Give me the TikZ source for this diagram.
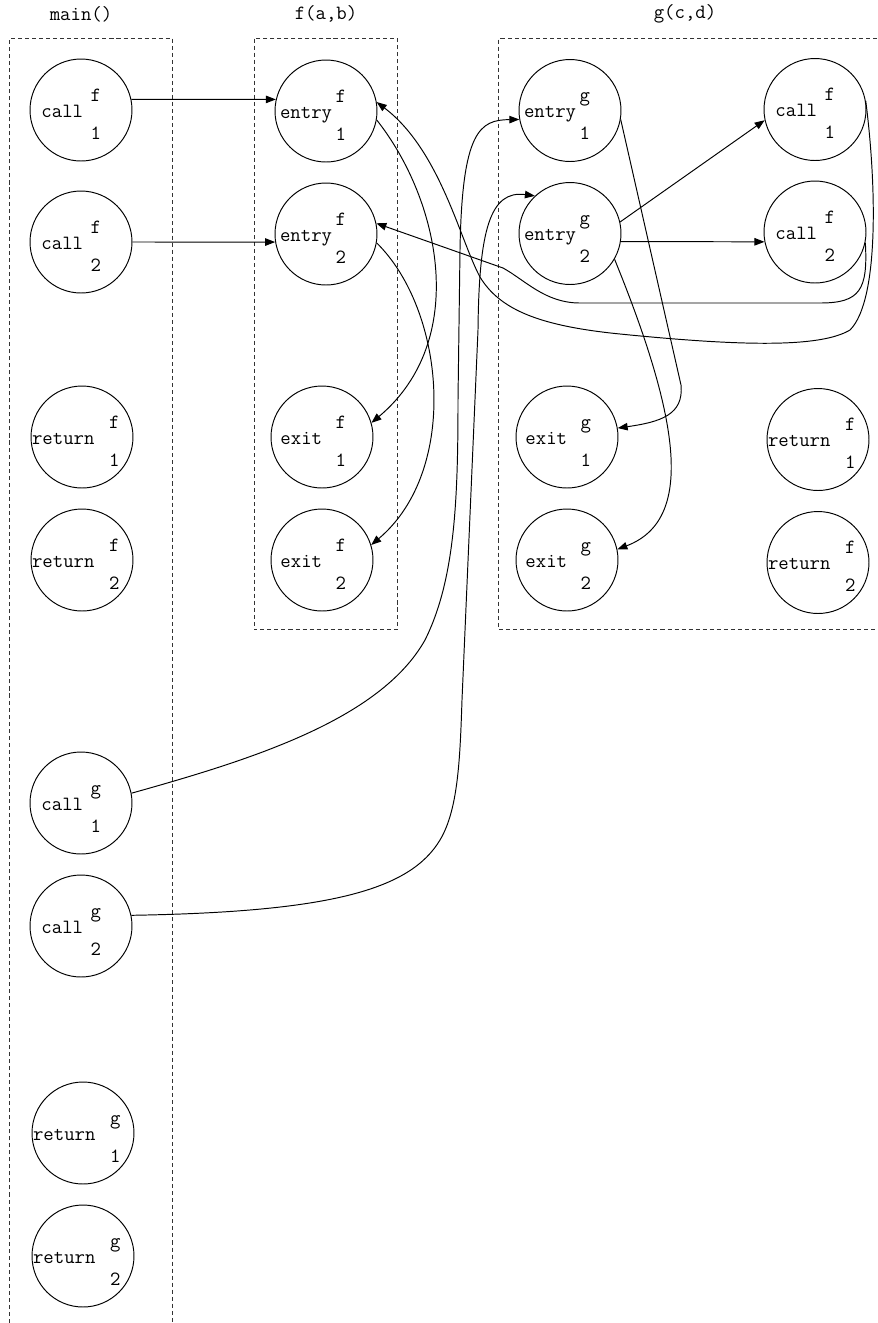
\documentclass[tikz,border=0pt]{standalone}
\usepackage{fontspec}
\usetikzlibrary{arrows.meta}

% word, then the name above and the number below it
\newcommand{\slbl}[5]{\texttt{#1}\hspace{#2}\rlap{\raisebox{0.32cm}{#4}}\raisebox{-0.44cm}{#5}\hspace{#3}\null}
\newcommand{\callL}[2]{\slbl{call}{0.15cm}{0.39cm}{#1}{#2}}
\newcommand{\entryL}[2]{\slbl{entry}{0.07cm}{0.52cm}{#1}{#2}}
\newcommand{\exitL}[2]{\slbl{exit}{0.27cm}{0.35cm}{#1}{#2}}
\newcommand{\returnL}[2]{\slbl{return}{0.29cm}{0.25cm}{#1}{#2}}

\begin{document}
\begin{tikzpicture}[
        x=0.02cm, y=-0.02cm,
        >={Triangle[length=0.2cm,width=0.15cm]},
        site/.style={
            circle,
            draw=black,
            line width=0.55pt,
            minimum size=2.04cm,
            inner sep=0pt,
            text height=0.3cm,
            text depth=0.02cm,
            font=\fontsize{11.5}{13.5}\selectfont\ttfamily
        },
        heading/.style={
            font=\fontsize{11.5}{13.5}\selectfont\ttfamily
        },
        region/.style={
            draw=black!80,
            line width=0.55pt,
            dash pattern=on 2.3pt off 1.7pt
        },
        arrow/.style={
            ->,
            line width=0.55pt,
            draw=black
        }
    ]
    \useasboundingbox (0,0) rectangle (877,1323);

    % procedure frames
    \draw[region] (9.5,1323) -- (9.5,38.5) -- (172.5,38.5) -- (172.5,1323);
    \draw[region] (254,38.5) rectangle (397,629.5);
    \draw[region] (877,38.5) -- (498.5,38.5) -- (498.5,629.5) -- (877,629.5);

    \node[heading] (t_main) at (81,14)  {main()};
    \node[heading] (t_f)    at (326,14) {f(a,b)};
    \node[heading] (t_g)    at (685,14) {g(c,d)};

    % main()
    \node[site] (m_callf1) at (81,110)   {\callL{f}{1}};
    \node[site] (m_callf2) at (81,242)   {\callL{f}{2}};
    \node[site] (m_retf1)  at (82,437)   {\returnL{f}{1}};
    \node[site] (m_retf2)  at (82,560)   {\returnL{f}{2}};
    \node[site] (m_callg1) at (81,803)   {\callL{g}{1}};
    \node[site] (m_callg2) at (81,926)   {\callL{g}{2}};
    \node[site] (m_retg1)  at (83,1133)  {\returnL{g}{1}};
    \node[site] (m_retg2)  at (83,1256)  {\returnL{g}{2}};

    % f(a,b)
    \node[site] (f_entry1) at (326,111)  {\entryL{f}{1}};
    \node[site] (f_entry2) at (326,234)  {\entryL{f}{2}};
    \node[site] (f_exit1)  at (322,437)  {\exitL{f}{1}};
    \node[site] (f_exit2)  at (322,560)  {\exitL{f}{2}};

    % g(c,d)
    \node[site] (g_entry1) at (570,110.5) {\entryL{g}{1}};
    \node[site] (g_entry2) at (570,233.5) {\entryL{g}{2}};
    \node[site] (g_exit1)  at (567,437)   {\exitL{g}{1}};
    \node[site] (g_exit2)  at (567,560)   {\exitL{g}{2}};
    \node[site] (g_callf1) at (815,109.5) {\callL{f}{1}};
    \node[site] (g_callf2) at (815,232)   {\callL{f}{2}};
    \node[site] (g_retf1)  at (818,439.5) {\returnL{f}{1}};
    \node[site] (g_retf2)  at (818,562.5) {\returnL{f}{2}};

    % calls of f
    \draw[arrow] (m_callf1.12) -- (f_entry1.167);
    \draw[arrow] (m_callf2.0) -- (f_entry2.189);
    \draw[arrow] (g_entry2.13) -- (g_callf1.192);
    \draw[arrow] (g_entry2.-9) -- (g_callf2.191);
    \draw[arrow] (g_callf1.10) .. controls (876,180) and (880,300) .. (850,330)
        .. controls (820,348) and (740,346) .. (620,334)
        .. controls (540,326) and (500,310) .. (480,277)
        .. controls (460,240) and (440,150) .. (f_entry1.10);
    \draw[arrow] (g_callf2.-12) .. controls (868,290) and (860,303) .. (820,303)
        -- (580,303) .. controls (545,303) and (525,280) .. (503,268)
        -- (f_entry2.12);

    % inside f
    \draw[arrow] (f_entry1.-10) .. controls (440,200) and (470,340) .. (f_exit1.16);
    \draw[arrow] (f_entry2.-10) .. controls (445,310) and (460,470) .. (f_exit2.17);

    % calls of g
    \draw[arrow] (m_callg1.11) .. controls (250,760) and (380,720) .. (425,640)
        .. controls (455,580) and (458,500) .. (458,400) -- (460,250)
        .. controls (462,130) and (480,120) .. (g_entry1.190);
    \draw[arrow] (m_callg2.12) .. controls (330,912) and (410,890) .. (440,840)
        .. controls (458,810) and (460,760) .. (462,700) -- (478,330)
        .. controls (479,230) and (490,190) .. (g_entry2.133);

    % inside g
    \draw[arrow] (g_entry1.-10) -- (681,385) .. controls (684,415) and (660,422) .. (g_exit1.10);
    \draw[arrow] (g_entry2.-30) .. controls (680,420) and (695,520) .. (g_exit2.12);

\end{tikzpicture}
\end{document}
